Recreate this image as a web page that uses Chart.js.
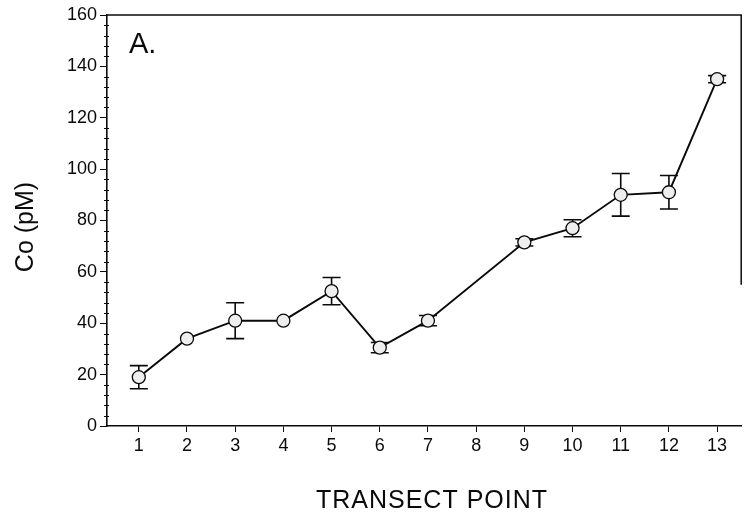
<!DOCTYPE html>
<html>
<head>
<meta charset="utf-8">
<script src="https://cdn.jsdelivr.net/npm/chart.js@4/dist/chart.umd.min.js"></script>
<style>
  html, body { margin: 0; padding: 0; background: #fff; }
  #wrap { width: 749px; height: 519px; }
</style>
</head>
<body>
<div id="wrap"><canvas id="c" width="749" height="519"></canvas></div>
<script>
// Transect points that were sampled (no sample at point 8)
const transectPoints = [1, 2, 3, 4, 5, 6, 7, 9, 10, 11, 12, 13];
// Dissolved cobalt, pM
const cobaltMean = [19, 34, 41, 41, 52.5, 30.5, 41, 71.5, 77, 90, 91, 135];
// Error bar half-widths, pM
const cobaltError = [4.5, 0, 7, 0, 5.3, 2, 2, 1.4, 3.3, 8.3, 6.5, 1.4];
// X axis tick labels
const xTickLabels = [1, 2, 3, 4, 5, 6, 7, 8, 9, 10, 11, 12, 13];

const FONT = "'Liberation Sans', Arial, Helvetica, sans-serif";
const INK = '#0a0a0a';

const points = transectPoints.map((x, i) => ({ x: x, y: cobaltMean[i] }));

const decorations = {
  id: 'decorations',
  beforeDatasetsDraw(chart) {
    const { ctx } = chart;
    const xs = chart.scales.x, ys = chart.scales.y;
    ctx.save();
    ctx.strokeStyle = INK;
    ctx.lineWidth = 1.6;
    transectPoints.forEach((x, i) => {
      const e = cobaltError[i];
      if (!e) return;
      const px = xs.getPixelForValue(x);
      const yTop = ys.getPixelForValue(cobaltMean[i] + e);
      const yBot = ys.getPixelForValue(cobaltMean[i] - e);
      const cap = 9;
      ctx.beginPath();
      ctx.moveTo(px, yTop); ctx.lineTo(px, yBot);
      ctx.moveTo(px - cap, yTop); ctx.lineTo(px + cap, yTop);
      ctx.moveTo(px - cap, yBot); ctx.lineTo(px + cap, yBot);
      ctx.stroke();
    });
    ctx.restore();
  },
  afterDraw(chart) {
    const { ctx, chartArea } = chart;
    const ys = chart.scales.y;
    ctx.save();
    ctx.strokeStyle = INK;
    ctx.lineWidth = 1;
    // minor ticks on the y axis
    ctx.beginPath();
    for (let v = 0; v <= 160; v += 4) {
      if (v % 20 === 0) continue;
      const py = Math.round(ys.getPixelForValue(v)) + 0.5;
      ctx.moveTo(chartArea.left - 3, py);
      ctx.lineTo(chartArea.left + 2, py);
    }
    ctx.stroke();
    // top and right frame lines
    ctx.lineWidth = 1.5;
    ctx.beginPath();
    ctx.moveTo(chartArea.left, chartArea.top);
    ctx.lineTo(chartArea.right, chartArea.top);
    ctx.lineTo(chartArea.right, ys.getPixelForValue(55));
    ctx.stroke();
    // panel label
    ctx.fillStyle = INK;
    ctx.font = '29px ' + FONT;
    ctx.textAlign = 'left';
    ctx.textBaseline = 'alphabetic';
    ctx.fillText('A.', 129, 53);
    // axis titles
    ctx.font = '25px ' + FONT;
    ctx.textAlign = 'center';
    try { ctx.letterSpacing = '1px'; } catch (e) {}
    ctx.fillText('TRANSECT POINT', 432, 508);
    try { ctx.letterSpacing = '0px'; } catch (e) {}
    ctx.translate(33, 227);
    ctx.rotate(-Math.PI / 2);
    ctx.fillText('Co (pM)', 0, 0);
    ctx.restore();
  }
};

new Chart(document.getElementById('c'), {
  type: 'line',
  data: {
    datasets: [{
      data: points,
      borderColor: INK,
      borderWidth: 1.9,
      pointRadius: 6.5,
      pointHoverRadius: 6.5,
      pointBackgroundColor: '#eeeeee',
      pointBorderColor: INK,
      pointBorderWidth: 1.3,
      tension: 0,
      fill: false
    }]
  },
  options: {
    responsive: false,
    animation: false,
    events: [],
    layout: { padding: { left: 0, top: 15, right: 4, bottom: 0 } },
    plugins: { legend: { display: false }, tooltip: { enabled: false } },
    scales: {
      x: {
        type: 'linear',
        min: 0.34,
        max: 13.5,
        afterBuildTicks(scale) { scale.ticks = xTickLabels.map(v => ({ value: v })); },
        afterFit(scale) { scale.height = 93; },
        border: { display: true, color: INK, width: 1.6 },
        grid: { display: true, drawOnChartArea: false, drawTicks: true, tickLength: 6, color: INK, lineWidth: 1 },
        ticks: {
          autoSkip: false,
          maxRotation: 0,
          padding: 3,
          color: INK,
          font: { family: FONT, size: 18 },
          callback: v => String(v)
        }
      },
      y: {
        min: 0,
        max: 160,
        afterFit(scale) { scale.width = 107; },
        border: { display: true, color: INK, width: 1.6 },
        grid: { display: true, drawOnChartArea: false, drawTicks: true, tickLength: 7, color: INK, lineWidth: 1 },
        ticks: {
          stepSize: 20,
          padding: 3,
          color: INK,
          font: { family: FONT, size: 18 }
        }
      }
    }
  },
  plugins: [decorations]
});
</script>
</body>
</html>
